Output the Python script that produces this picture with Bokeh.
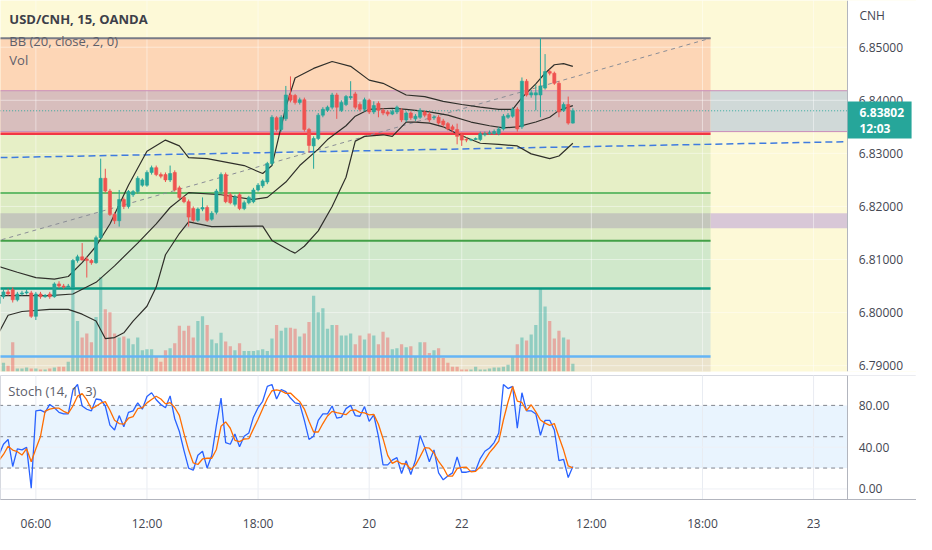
from bokeh.plotting import figure
from bokeh.models import Range1d, FixedTicker, PrintfTickFormatter, Label, ColumnDataSource
from bokeh.core.properties import value
from bokeh.layouts import column
from bokeh.embed import file_html
from bokeh.resources import INLINE

# ---------------- data (15-min bars, index 0 = 06:00 on the 19th) ----------------
bars = list(range(-8, 117))
opens = [6.8017, 6.8030, 6.8039, 6.8043, 6.8024, 6.8035, 6.8037, 6.8037,
         6.7993, 6.8035, 6.8030, 6.8035, 6.8030, 6.8054, 6.8050, 6.8048,
         6.8048, 6.8098, 6.8105, 6.8101, 6.8098, 6.8094, 6.8141, 6.8253,
         6.8229, 6.8185, 6.8173, 6.8213, 6.8200, 6.8222, 6.8228, 6.8240,
         6.8240, 6.8264, 6.8273, 6.8260, 6.8260, 6.8250, 6.8264, 6.8235,
         6.8217, 6.8209, 6.8196, 6.8174, 6.8195, 6.8198, 6.8176, 6.8189,
         6.8228, 6.8260, 6.8222, 6.8204, 6.8222, 6.8196, 6.8207, 6.8209,
         6.8231, 6.8239, 6.8246, 6.8281, 6.8367, 6.8345, 6.8365, 6.8410,
         6.8409, 6.8396, 6.8401, 6.8345, 6.8314, 6.8328, 6.8372, 6.8381,
         6.8387, 6.8410, 6.8381, 6.8392, 6.8405, 6.8412, 6.8392, 6.8383,
         6.8400, 6.8378, 6.8394, 6.8381, 6.8378, 6.8374, 6.8378, 6.8381,
         6.8363, 6.8376, 6.8365, 6.8368, 6.8378, 6.8374, 6.8367, 6.8368,
         6.8361, 6.8356, 6.8350, 6.8345, 6.8335, 6.8326, 6.8325, 6.8326,
         6.8326, 6.8335, 6.8337, 6.8337, 6.8337, 6.8346, 6.8368, 6.8370,
         6.8383, 6.8350, 6.8436, 6.8410, 6.8410, 6.8410, 6.8423, 6.8454,
         6.8451, 6.8432, 6.8381, 6.8392, 6.8357]
closes = [6.8030, 6.8039, 6.8035, 6.8024, 6.8035, 6.8037, 6.8039, 6.7993,
          6.8035, 6.8030, 6.8032, 6.8030, 6.8054, 6.8050, 6.8048, 6.8050,
          6.8098, 6.8105, 6.8099, 6.8098, 6.8094, 6.8141, 6.8253, 6.8229,
          6.8185, 6.8173, 6.8213, 6.8200, 6.8228, 6.8228, 6.8253, 6.8250,
          6.8264, 6.8273, 6.8260, 6.8257, 6.8250, 6.8262, 6.8231, 6.8217,
          6.8209, 6.8180, 6.8174, 6.8195, 6.8198, 6.8174, 6.8187, 6.8229,
          6.8260, 6.8209, 6.8207, 6.8218, 6.8196, 6.8207, 6.8217, 6.8231,
          6.8240, 6.8248, 6.8281, 6.8368, 6.8345, 6.8368, 6.8410, 6.8400,
          6.8396, 6.8401, 6.8345, 6.8315, 6.8328, 6.8372, 6.8383, 6.8387,
          6.8410, 6.8387, 6.8396, 6.8407, 6.8407, 6.8387, 6.8383, 6.8401,
          6.8378, 6.8390, 6.8381, 6.8376, 6.8374, 6.8379, 6.8387, 6.8363,
          6.8376, 6.8367, 6.8370, 6.8381, 6.8372, 6.8363, 6.8368, 6.8357,
          6.8354, 6.8346, 6.8345, 6.8332, 6.8325, 6.8325, 6.8326, 6.8328,
          6.8337, 6.8337, 6.8339, 6.8341, 6.8346, 6.8370, 6.8372, 6.8383,
          6.8346, 6.8436, 6.8410, 6.8414, 6.8414, 6.8427, 6.8454, 6.8451,
          6.8432, 6.8378, 6.8392, 6.8357, 6.83802]
highs = [6.8035, 6.8045, 6.8045, 6.8048, 6.8039, 6.8041, 6.8045, 6.8041,
         6.8039, 6.8039, 6.8035, 6.8039, 6.8057, 6.8059, 6.8054, 6.8054,
         6.8101, 6.8109, 6.8131, 6.8105, 6.8101, 6.8145, 6.8290, 6.8271,
         6.8233, 6.8189, 6.8231, 6.8217, 6.8231, 6.8231, 6.8257, 6.8253,
         6.8268, 6.8277, 6.8277, 6.8264, 6.8264, 6.8277, 6.8268, 6.8239,
         6.8220, 6.8213, 6.8200, 6.8198, 6.8217, 6.8202, 6.8191, 6.8233,
         6.8264, 6.8264, 6.8226, 6.8222, 6.8226, 6.8211, 6.8220, 6.8235,
         6.8244, 6.8251, 6.8284, 6.8372, 6.8370, 6.8372, 6.8427, 6.8445,
         6.8412, 6.8405, 6.8405, 6.8348, 6.8332, 6.8376, 6.8387, 6.8390,
         6.8414, 6.8414, 6.8400, 6.8410, 6.8436, 6.8416, 6.8396, 6.8405,
         6.8403, 6.8398, 6.8398, 6.8385, 6.8381, 6.8383, 6.8390, 6.8385,
         6.8379, 6.8379, 6.8374, 6.8385, 6.8381, 6.8378, 6.8372, 6.8372,
         6.8365, 6.8359, 6.8354, 6.8356, 6.8339, 6.8330, 6.8328, 6.8330,
         6.8341, 6.8341, 6.8343, 6.8345, 6.8350, 6.8374, 6.8376, 6.8387,
         6.8387, 6.8443, 6.8440, 6.8420, 6.8429, 6.8517, 6.8487, 6.8458,
         6.8454, 6.8436, 6.8396, 6.8407, 6.8385]
lows = [6.8012, 6.8026, 6.8032, 6.8019, 6.8021, 6.8032, 6.8034, 6.7990,
        6.7986, 6.8026, 6.8028, 6.8026, 6.8028, 6.8046, 6.8045, 6.8046,
        6.8046, 6.8094, 6.8098, 6.8066, 6.8090, 6.8092, 6.8138, 6.8226,
        6.8182, 6.8167, 6.8162, 6.8195, 6.8196, 6.8218, 6.8224, 6.8237,
        6.8237, 6.8260, 6.8257, 6.8253, 6.8246, 6.8246, 6.8228, 6.8213,
        6.8206, 6.8162, 6.8171, 6.8171, 6.8191, 6.8171, 6.8173, 6.8185,
        6.8224, 6.8206, 6.8204, 6.8200, 6.8193, 6.8193, 6.8204, 6.8206,
        6.8228, 6.8235, 6.8242, 6.8277, 6.8341, 6.8341, 6.8361, 6.8396,
        6.8392, 6.8392, 6.8341, 6.8301, 6.8271, 6.8325, 6.8368, 6.8378,
        6.8383, 6.8365, 6.8378, 6.8389, 6.8401, 6.8383, 6.8379, 6.8379,
        6.8374, 6.8374, 6.8368, 6.8372, 6.8370, 6.8372, 6.8374, 6.8359,
        6.8359, 6.8363, 6.8361, 6.8365, 6.8368, 6.8359, 6.8363, 6.8354,
        6.8350, 6.8343, 6.8341, 6.8317, 6.8314, 6.8321, 6.8323, 6.8325,
        6.8323, 6.8332, 6.8335, 6.8335, 6.8334, 6.8343, 6.8365, 6.8367,
        6.8341, 6.8346, 6.8407, 6.8405, 6.8381, 6.8368, 6.8420, 6.8447,
        6.8429, 6.8368, 6.8378, 6.8354, 6.8356]
volume = [20, 9, 6, 30, 3, 3, 4, 3, 3, 2, 2, 3, 4, 5, 5, 10,
          89, 52, 35, 39, 30, 56, 97, 64, 61, 39, 35, 36, 34, 28, 35, 22,
          23, 23, 16, 10, 22, 24, 29, 47, 42, 47, 35, 52, 57, 48, 33, 29,
          40, 31, 26, 22, 29, 21, 21, 21, 22, 23, 21, 34, 48, 42, 45, 45,
          44, 36, 39, 51, 78, 61, 65, 44, 48, 48, 37, 37, 39, 28, 37, 33,
          39, 37, 28, 41, 35, 23, 24, 28, 25, 26, 15, 30, 30, 19, 22, 24,
          14, 9, 5, 5, 2, 2, 2, 5, 2, 2, 3, 4, 4, 5, 7, 15,
          28, 35, 32, 38, 48, 85, 67, 52, 34, 42, 35, 33, 8]

# Bollinger Bands (20, close, 2)
bb_up_t = [-8, -4, 0, 4, 7, 10, 13, 16, 20, 24, 28, 31, 33, 37, 45, 49, 51, 54, 56, 60,
           64, 68, 72, 75, 80, 84, 88, 92, 96, 100, 103, 105, 108, 110, 112, 114, 116]
bb_up = [6.8087, 6.8076, 6.8066, 6.8063, 6.8068, 6.8094, 6.8125, 6.8167, 6.8240, 6.8304,
         6.8325, 6.8314, 6.8292, 6.8290, 6.8277, 6.8262, 6.8277, 6.8387, 6.8442, 6.8460,
         6.8473, 6.8464, 6.8438, 6.8432, 6.8410, 6.8407, 6.8398, 6.8392, 6.8387, 6.8383,
         6.8383, 6.8405, 6.8431, 6.8451, 6.8467, 6.8469, 6.8464]
bb_mid_t = [-8, 3, 8, 13, 17, 22, 26, 29, 33, 40, 47, 50, 54, 57, 61, 63, 67, 69, 72, 77,
            80, 85, 89, 94, 98, 101, 104, 108, 111, 113, 116]
bb_mid = [6.8032, 6.8032, 6.8035, 6.8057, 6.8088, 6.8131, 6.8167, 6.8198, 6.8226, 6.8222,
          6.8213, 6.8217, 6.8246, 6.8277, 6.8308, 6.8326, 6.8352, 6.8370, 6.8383, 6.8385,
          6.8383, 6.8378, 6.8372, 6.8359, 6.8352, 6.8348, 6.8350, 6.8359, 6.8368, 6.8381,
          6.8390]
bb_low_t = [-8, -6, -3, 3, 7, 10, 13, 15, 17, 19, 21, 24, 26, 28, 31, 33, 38, 49, 51, 55,
            56, 58, 61, 64, 67, 69, 71, 75, 77, 80, 82, 85, 88, 91, 94, 96, 100, 104, 107, 111,
            113, 116]
bb_low = [6.7962, 6.7995, 6.8002, 6.8006, 6.8006, 6.7997, 6.7984, 6.7951, 6.7953, 6.7962,
          6.7984, 6.8012, 6.8048, 6.8109, 6.8149, 6.8171, 6.8162, 6.8163, 6.8136, 6.8116,
          6.8112, 6.8125, 6.8154, 6.8200, 6.8255, 6.8323, 6.8332, 6.8335, 6.8332, 6.8359,
          6.8359, 6.8357, 6.8350, 6.8337, 6.8326, 6.8319, 6.8317, 6.8314, 6.8299, 6.8290,
          6.8295, 6.8319]

# Stochastic (14, 1, 3)
stoch_k = [32.2, 42.8, 47.4, 21.5, 38.3, 37.4, 39.8, 0.8,
           74.8, 75.4, 73.3, 80.9, 77.8, 73.3, 71.8, 71.8,
           94.6, 100.0, 79.4, 76.3, 74.8, 86.1, 85.4, 79.4,
           61.1, 56.5, 70.2, 59.6, 73.3, 74.8, 82.4, 76.3,
           88.5, 92.1, 85.4, 80.9, 77.8, 89.1, 67.2, 55.0,
           36.7, 20.0, 17.9, 32.2, 36.1, 20.0, 32.2, 61.1,
           87.0, 44.4, 42.8, 52.6, 40.4, 50.4, 53.5, 68.7,
           77.8, 83.9, 98.2, 100.0, 86.1, 95.2, 93.1, 87.0,
           82.4, 81.5, 65.7, 47.4, 50.4, 65.7, 71.8, 71.8,
           79.4, 67.8, 68.7, 76.9, 80.0, 70.2, 69.6, 78.8,
           64.7, 70.8, 50.4, 23.0, 23.0, 27.6, 30.0, 14.8,
           27.0, 13.9, 27.6, 51.1, 39.8, 26.1, 37.4, 15.4,
           8.7, 12.4, 15.4, 30.7, 16.0, 16.0, 17.0, 17.6,
           29.1, 36.1, 39.2, 44.4, 53.5, 100.0, 96.1, 98.2,
           58.1, 92.1, 74.8, 74.8, 71.8, 51.4, 65.7, 65.7,
           56.5, 27.0, 28.2, 10.9, 21.5]
stoch_d = [27.0, 33.0, 40.8, 37.2, 35.7, 32.4, 38.5, 26.0,
           38.5, 50.3, 74.5, 76.5, 77.3, 77.3, 74.3, 72.3,
           79.4, 88.8, 91.3, 85.2, 76.8, 79.1, 82.1, 83.6,
           75.3, 65.7, 62.6, 62.1, 67.7, 69.2, 76.8, 77.8,
           82.4, 85.6, 88.7, 86.1, 81.4, 82.6, 78.0, 70.4,
           53.0, 37.2, 24.9, 23.4, 28.7, 29.4, 29.4, 37.8,
           60.1, 64.2, 58.1, 46.6, 45.3, 47.8, 48.1, 57.5,
           66.7, 76.8, 86.6, 94.0, 94.8, 93.8, 91.5, 91.8,
           87.5, 83.6, 76.5, 64.9, 54.5, 54.5, 62.6, 69.8,
           74.3, 73.0, 72.0, 71.1, 75.2, 75.7, 73.3, 72.9,
           71.0, 71.4, 62.0, 48.1, 32.1, 24.5, 26.9, 24.1,
           23.9, 18.6, 22.8, 30.9, 39.5, 39.0, 34.4, 26.3,
           20.5, 12.2, 12.2, 19.5, 20.7, 20.9, 16.3, 16.9,
           21.2, 27.6, 34.8, 39.9, 45.7, 66.0, 83.2, 98.1,
           84.1, 82.8, 75.0, 80.6, 73.8, 66.0, 63.0, 60.9,
           62.6, 49.7, 37.2, 22.0, 20.2]
stoch_levels = [80, 50, 20]

# Drawings: Fibonacci retracement, two rectangles, an extended trend line
fib_high = 6.8517
fib_low = 6.7754
fib_levels = [0.0, 0.236, 0.382, 0.5, 0.618, 0.786, 1.0]
fib_start_t = -162
fib_end_t = 145.75
rect1 = (6.8418, 6.8341)
rect2 = (6.8187, 6.8159)
trend_t = [-7.64, 175.37]
trend_p = [6.8292, 6.8322]
last_price = 6.83802
countdown = "12:03"

time_ticks = [0, 24, 48, 72, 92, 120, 144, 168]
time_labels = ["06:00", "12:00", "18:00", "20", "22", "12:00", "18:00", "23"]
price_ticks = [6.79, 6.80, 6.81, 6.82, 6.83, 6.84, 6.85]
stoch_ticks = [0, 40, 80]

# ---------------- layout / style ----------------
FONT = "Open Sans"
FIG_W = 916
MAIN_H = 375
STOCH_H = 159
PX_PER_BAR = 4.71                      # reference pixels per bar
X_START = -7.64
X_END = X_START + 932 / PX_PER_BAR     # frame covers the scale column too
AXIS_T = X_START + 862 / PX_PER_BAR    # where the price scale sits
P_BOT, P_TOP = 6.7889, 6.8588
S_BOT, S_TOP = -10.1, 108.6
UP, DOWN = "#26a69a", "#ef5350"
TXT = "#434651"
FAR_L, FAR_R = -300, 400


def tx(xref):
    return X_START + xref / PX_PER_BAR


def py(yref):
    return P_TOP - (P_TOP - P_BOT) * yref / 382.0


def sy(yref):
    return S_TOP - (S_TOP - S_BOT) * (yref - 386) / 130.0


def style_axis(ax):
    ax.major_tick_out = 0
    ax.major_tick_in = 0
    ax.minor_tick_out = 0
    ax.minor_tick_in = 0
    ax.axis_line_color = "#b2b5be"
    ax.major_label_text_font = FONT
    ax.major_label_text_font_size = "12px"
    ax.major_label_text_color = TXT


xr = Range1d(X_START, X_END)

main = figure(width=FIG_W, height=MAIN_H, x_range=xr, y_range=Range1d(P_BOT, P_TOP),
              output_backend="svg", toolbar_location=None, x_axis_location=None,
              y_axis_location="right", min_border_left=0, min_border_right=0,
              min_border_top=0, min_border_bottom=4, background_fill_color="#fdf9d7",
              border_fill_color="white", outline_line_color=None)
main.grid.visible = False
main.extra_y_ranges = {"vol": Range1d(0, 382)}

lvl = [fib_high - r * (fib_high - fib_low) for r in fib_levels]
zone_colors = ["#fdd6b6", "#e6efc6", "#dcebc3", "#d0e8cb", "#dde9dc", "#ebe3cc"]
for i, zc in enumerate(zone_colors):
    main.quad(left=fib_start_t, right=fib_end_t, top=lvl[i], bottom=lvl[i + 1],
              fill_color=zc, line_color=None)

# rectangles (extended to the right)
main.quad(left=fib_start_t, right=fib_end_t, top=rect1[0], bottom=rect1[1],
          fill_color="#d8bebd", line_color=None)
main.quad(left=fib_end_t, right=FAR_R, top=rect1[0], bottom=rect1[1],
          fill_color="#d0d9d8", line_color=None)
main.quad(left=fib_start_t, right=fib_end_t, top=rect2[0], bottom=rect2[1],
          fill_color="#c4c7bc", line_color=None)
main.quad(left=fib_end_t, right=FAR_R, top=rect2[0], bottom=rect2[1],
          fill_color="#d8c7d7", line_color=None)

# faint grid
main.segment(x0=time_ticks, x1=time_ticks, y0=[6.7] * len(time_ticks), y1=[6.9] * len(time_ticks),
             line_color="white", line_alpha=0.45, line_width=1)
main.segment(x0=[FAR_L] * len(price_ticks), x1=[FAR_R] * len(price_ticks), y0=price_ticks,
             y1=price_ticks, line_color="white", line_alpha=0.45, line_width=1)

# volume
vol_src = ColumnDataSource(dict(x=bars, top=volume,
                                color=[UP if c >= o else DOWN for o, c in zip(opens, closes)]))
main.vbar(x="x", top="top", bottom=0, width=0.7, source=vol_src, y_range_name="vol",
          fill_color="color", fill_alpha=0.42, line_color=None)

# rect 1 borders
main.segment(x0=[FAR_L, FAR_L], x1=[FAR_R, FAR_R], y0=list(rect1), y1=list(rect1),
             line_color="#c88dbb", line_width=1)

# fib level lines + its diagonal
lvl_colors = ["#787b86", "#f23645", "#66bb6a", "#43a047", "#089981", "#64b5f6", "#787b86"]
lvl_widths = [2, 2.5, 2, 2, 2.5, 2.5, 2]
for p_, c_, w_ in zip(lvl, lvl_colors, lvl_widths):
    main.segment(x0=fib_start_t, x1=fib_end_t, y0=p_, y1=p_, line_color=c_, line_width=w_)
main.line([fib_start_t, fib_end_t], [fib_low, fib_high], line_color="#8a8d96",
          line_dash="4 4", line_width=1)

# extended trend line
main.line(trend_t, trend_p, line_color="#3f7be0", line_dash="7 4", line_width=1.5)

# Bollinger bands
for bt, bv in ((bb_up_t, bb_up), (bb_mid_t, bb_mid), (bb_low_t, bb_low)):
    main.line(bt, bv, line_color="#2f2f2a", line_width=1.2)

# last price line (stops at the scale)
main.segment(x0=FAR_L, x1=AXIS_T, y0=last_price, y1=last_price, line_color=UP,
             line_dash="1 2", line_width=1, line_alpha=0.9)

# candles
ccol = [UP if c >= o else DOWN for o, c in zip(opens, closes)]
csrc = ColumnDataSource(dict(x=bars, color=ccol, h=highs, l=lows,
                             top=[max(o, c) for o, c in zip(opens, closes)],
                             bot=[min(o, c) for o, c in zip(opens, closes)]))
main.segment(x0="x", x1="x", y0="l", y1="h", line_color="color", line_width=1, source=csrc)
main.vbar(x="x", width=0.68, top="top", bottom="bot", fill_color="color",
          line_color="color", line_width=0.6, source=csrc)

# price-scale column background
main.quad(left=AXIS_T, right=FAR_R, bottom=6.0, top=7.0, fill_color="white", line_color=None)

# price axis (placed inside the frame at the scale position)
ya = main.yaxis[0]
ya.fixed_location = AXIS_T
ya.ticker = FixedTicker(ticks=price_ticks, minor_ticks=[])
ya.formatter = PrintfTickFormatter(format="%.5f")
style_axis(ya)
ya.major_label_standoff = 11

# last-price tag on the scale (drawn above the axis labels)
main.quad(left=AXIS_T, right=tx(927), top=py(104), bottom=py(142), fill_color=UP,
          line_color=None, level="annotation")
main.text(x=[tx(874), tx(874)], y=[py(115), py(131.5)],
          text=["%.5f" % last_price, countdown], text_font=value(FONT),
          text_font_size="12px", text_font_style="bold", text_color="white",
          text_baseline="middle", text_align="left", level="overlay")

# legends / labels
main.add_layout(Label(x=tx(9), y=py(19.5), text="USD/CNH, 15, OANDA", text_baseline="middle",
                      text_font=FONT, text_font_size="13px", text_font_style="bold",
                      text_color="#3d4049"))
main.add_layout(Label(x=tx(9), y=py(42), text="BB (20, close, 2, 0)", text_baseline="middle",
                      text_font=FONT, text_font_size="13px", text_color="#5d606b"))
main.add_layout(Label(x=tx(9), y=py(61.5), text="Vol", text_baseline="middle",
                      text_font=FONT, text_font_size="13px", text_color="#5d606b"))
main.add_layout(Label(x=tx(874), y=py(15.5), text="CNH", text_baseline="middle",
                      text_font=FONT, text_font_size="12px", text_color=TXT))

# ---------------- stochastic pane ----------------
stoch = figure(width=FIG_W, height=STOCH_H, x_range=xr, y_range=Range1d(S_BOT, S_TOP),
               output_backend="svg", toolbar_location=None, x_axis_location="below",
               y_axis_location="right", min_border_left=0, min_border_right=0,
               min_border_top=0, min_border_bottom=33, background_fill_color="white",
               border_fill_color="white", outline_line_color="#d6d9e0")
stoch.grid.visible = False
stoch.quad(left=FAR_L, right=FAR_R, bottom=stoch_levels[2], top=stoch_levels[0],
           fill_color="#e9f4fe", line_color=None)
stoch.segment(x0=time_ticks, x1=time_ticks, y0=[-50] * len(time_ticks), y1=[150] * len(time_ticks),
              line_color="#e9ecf2", line_width=1)
stoch.segment(x0=[FAR_L, FAR_L], x1=[FAR_R, FAR_R], y0=[0, 40], y1=[0, 40],
              line_color="#eef0f5", line_width=1)
stoch.segment(x0=[FAR_L] * 3, x1=[FAR_R] * 3, y0=stoch_levels, y1=stoch_levels,
              line_color="#80848e", line_dash="4 4", line_width=1)
stoch.line(bars, stoch_k, line_color="#2962ff", line_width=1.3)
stoch.line(bars, stoch_d, line_color="#ff6d00", line_width=1.3)
stoch.quad(left=AXIS_T, right=FAR_R, bottom=-50, top=150, fill_color="white", line_color=None)

sa = stoch.yaxis[0]
sa.fixed_location = AXIS_T
sa.ticker = FixedTicker(ticks=stoch_ticks, minor_ticks=[])
sa.formatter = PrintfTickFormatter(format="%.2f")
style_axis(sa)
sa.major_label_standoff = 11

xa = stoch.xaxis[0]
xa.ticker = FixedTicker(ticks=time_ticks, minor_ticks=[])
xa.major_label_overrides = {t: s for t, s in zip(time_ticks, time_labels)}
style_axis(xa)
xa.major_label_standoff = 15

stoch.add_layout(Label(x=tx(8), y=sy(402), text="Stoch (14, 1, 3)", text_baseline="middle",
                       text_font=FONT, text_font_size="13px", text_color="#5d606b"))

layout = column(main, stoch, spacing=0)
open("out.html", "w").write(file_html(layout, INLINE, title="USD/CNH, 15, OANDA"))
